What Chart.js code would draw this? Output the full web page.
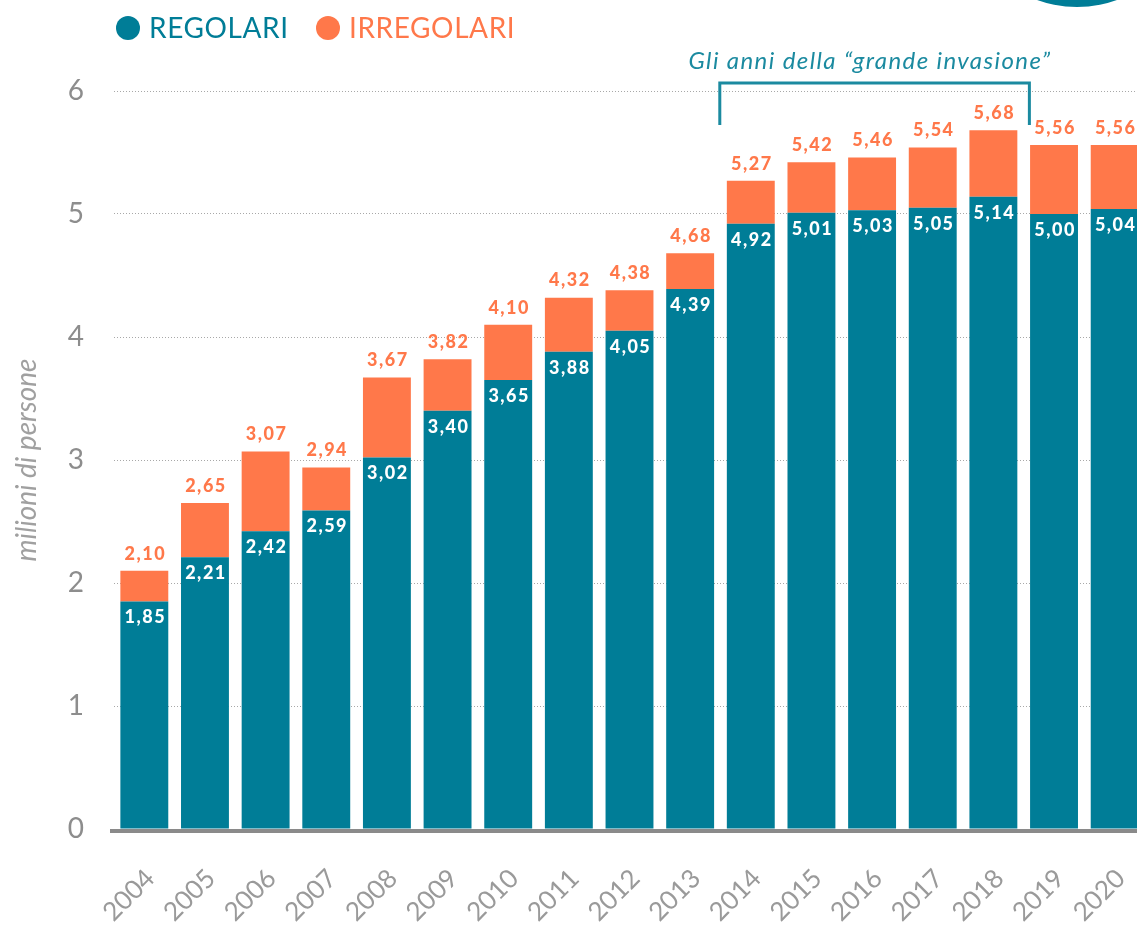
<!DOCTYPE html>
<html lang="it">
<head>
<meta charset="utf-8">
<title>Regolari e irregolari</title>
<script src="https://cdn.jsdelivr.net/npm/chart.js@4.4.1/dist/chart.umd.min.js"></script>
<style>
  html, body { margin: 0; padding: 0; background: #ffffff; overflow: hidden; }
  #wrap { position: absolute; left: 0; top: 0; width: 1160px; height: 928px; }
</style>
</head>
<body>
<div id="wrap"><canvas id="c" width="1160" height="928"></canvas></div>
<script>
// ---- data ----
const anni = ['2004','2005','2006','2007','2008','2009','2010','2011','2012','2013','2014','2015','2016','2017','2018','2019','2020'];
const regolari = [1.85, 2.21, 2.42, 2.59, 3.02, 3.40, 3.65, 3.88, 4.05, 4.39, 4.92, 5.01, 5.03, 5.05, 5.14, 5.00, 5.04];
const totali   = [2.10, 2.65, 3.07, 2.94, 3.67, 3.82, 4.10, 4.32, 4.38, 4.68, 5.27, 5.42, 5.46, 5.54, 5.68, 5.56, 5.56];
const irregolari = totali.map((t, i) => Math.round((t - regolari[i]) * 100) / 100);
const yTicks = [0, 1, 2, 3, 4, 5, 6];
const legendLabels = ['REGOLARI', 'IRREGOLARI'];
const annotationText = 'Gli anni della \u201Cgrande invasione\u201D';
const annotationFrom = '2014';
const annotationTo = '2018';
const yTitle = 'milioni di persone';

const TEAL = '#007d97';
const ORANGE = '#ff784a';
const GRAY = '#8d8d8d';
const FONT = 'Lato, "Open Sans", sans-serif';

const fmt = v => v.toFixed(2).replace('.', ',');

const decor = {
  id: 'decor',
  afterDatasetsDraw(chart) {
    const ctx = chart.ctx;
    const area = chart.chartArea;
    const m0 = chart.getDatasetMeta(0);
    const m1 = chart.getDatasetMeta(1);
    ctx.save();
    // zero axis line
    ctx.strokeStyle = '#8a8a8a';
    ctx.lineWidth = 4;
    ctx.beginPath();
    ctx.moveTo(area.left - 4, area.bottom + 2);
    ctx.lineTo(chart.width, area.bottom + 2);
    ctx.stroke();
    // value labels
    ctx.font = '900 18px ' + FONT;
    ctx.textAlign = 'center';
    ctx.textBaseline = 'middle';
    try { ctx.letterSpacing = '1.5px'; } catch (e) {}
    for (let i = 0; i < anni.length; i++) {
      const b0 = m0.data[i];
      const b1 = m1.data[i];
      ctx.fillStyle = '#ffffff';
      ctx.fillText(fmt(regolari[i]), b0.x + 1, b0.y + 16);
      ctx.fillStyle = ORANGE;
      ctx.fillText(fmt(totali[i]), b1.x + 1, b1.y - 17);
    }
    try { ctx.letterSpacing = '0px'; } catch (e) {}
    ctx.restore();
  },
  afterDraw(chart) {
    const ctx = chart.ctx;
    const xs = chart.scales.x;
    ctx.save();
    // legend
    ctx.textBaseline = 'middle';
    ctx.textAlign = 'left';
    ctx.font = '28px ' + FONT;
    try { ctx.letterSpacing = '0.6px'; } catch (e) {}
    const items = [[legendLabels[0], TEAL, 128], [legendLabels[1], ORANGE, 328]];
    items.forEach(([t, c, x]) => {
      ctx.fillStyle = c;
      ctx.beginPath();
      ctx.arc(x, 28, 12, 0, Math.PI * 2);
      ctx.fill();
      ctx.fillText(t, x + 21, 29);
    });
    // annotation bracket
    const xa = xs.getPixelForValue(anni.indexOf(annotationFrom)) - 31;
    const xb = xs.getPixelForValue(anni.indexOf(annotationTo)) + 36;
    ctx.strokeStyle = '#1b8aa0';
    ctx.lineWidth = 3;
    ctx.beginPath();
    ctx.moveTo(xa, 125);
    ctx.lineTo(xa, 83);
    ctx.lineTo(xb, 83);
    ctx.lineTo(xb, 125);
    ctx.stroke();
    ctx.fillStyle = '#1b8aa0';
    ctx.font = 'italic 24px ' + FONT;
    ctx.textAlign = 'center';
    ctx.textBaseline = 'alphabetic';
    try { ctx.letterSpacing = '1.4px'; } catch (e) {}
    ctx.fillText(annotationText, 870, 69);
    try { ctx.letterSpacing = '0px'; } catch (e) {}
    // partial badge circle top right
    ctx.fillStyle = TEAL;
    ctx.beginPath();
    ctx.arc(1077, -110.5, 117.5, 0, Math.PI * 2);
    ctx.fill();
    ctx.restore();
  }
};

new Chart(document.getElementById('c'), {
  type: 'bar',
  data: {
    labels: anni,
    datasets: [
      { label: legendLabels[0], data: regolari, backgroundColor: TEAL, borderWidth: 0 },
      { label: legendLabels[1], data: irregolari, backgroundColor: ORANGE, borderWidth: 0 }
    ]
  },
  options: {
    responsive: false,
    animation: false,
    events: [],
    layout: { padding: { left: 0, right: 15, top: 91, bottom: 0 } },
    datasets: { bar: { categoryPercentage: 1, barPercentage: 0.79 } },
    plugins: { legend: { display: false }, tooltip: { enabled: false } },
    scales: {
      x: {
        stacked: true,
        grid: { display: false },
        border: { display: false },
        ticks: {
          color: '#9a9a9a',
          font: { family: FONT, size: 26 },
          minRotation: 45, maxRotation: 45,
          padding: 26,
          labelOffset: 6
        },
        afterFit(s) {
          s.height = 99;
          s.paddingLeft = 0; s.paddingRight = 0; s.paddingTop = 0; s.paddingBottom = 0;
        }
      },
      y: {
        stacked: true,
        min: 0, max: 6,
        afterBuildTicks(s) { s.ticks = yTicks.map(v => ({ value: v })); },
        grid: {
          drawTicks: false,
          color: c => (c.tick && c.tick.value === 0) ? 'rgba(0,0,0,0)' : '#a8a8a8',
          lineWidth: 1
        },
        border: { display: false, dash: [1, 2] },
        ticks: {
          color: GRAY,
          font: { family: FONT, size: 28 },
          padding: 30,
          callback: v => String(v)
        },
        title: {
          display: true,
          text: yTitle,
          color: '#a0a0a0',
          font: { family: FONT, size: 28, style: 'italic' },
          padding: { top: 10, bottom: 0 }
        },
        afterFit(s) {
          s.width = 114;
          s.paddingTop = 0; s.paddingBottom = 0;
        }
      }
    }
  },
  plugins: [decor]
});
</script>
</body>
</html>
